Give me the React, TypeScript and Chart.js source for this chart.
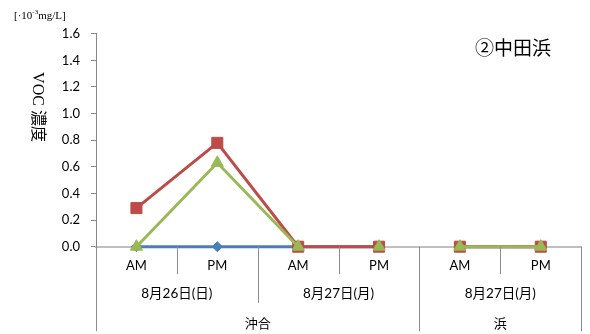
import React, { useEffect, useRef } from 'react';
import { Chart, registerables } from 'chart.js';

Chart.register(...registerables);

const categories = ['AM', 'PM', 'AM', 'PM', 'AM', 'PM'];
const dateLabels = ['8月26日(日)', '8月27日(月)', '8月27日(月)'];
const dateSpans = [2, 2, 2];
const locationLabels = ['沖合', '浜'];
const locationSpans = [4, 2];

const yMin = 0;
const yMax = 1.6;
const yStep = 0.2;

const blueValues = [0, 0, 0, 0, 0, 0];
const redValues = [0.29, 0.78, 0, 0, 0, 0];
const greenValues = [0, 0.63, 0, 0, 0, 0];
const greenHiddenSegments = [2];

const chartTitle = '②中田浜';
const unitMain = '[·10';
const unitSup = '-3';
const unitTail = 'mg/L]';
const yTitle = 'VOC 濃度';

const BLUE = '#4A7EBB';
const RED = '#BE4B48';
const GREEN = '#98B954';

// segments crossing a location boundary are not drawn
const locationBoundaries: number[] = [];
{
  let acc = 0;
  for (let i = 0; i < locationSpans.length - 1; i++) {
    acc += locationSpans[i];
    locationBoundaries.push(acc - 1);
  }
}

const segColor = (color: string, extra: number[] = []) => (ctx: any) =>
  locationBoundaries.includes(ctx.p0DataIndex) || extra.includes(ctx.p0DataIndex) ? 'rgba(0,0,0,0)' : color;

const multiLevelPlugin = {
  id: 'multiLevel',
  afterDraw(chart: any) {
    const ctx = chart.ctx as CanvasRenderingContext2D;
    const xs = chart.scales.x;
    const a = chart.chartArea;
    const n = categories.length;
    const step = xs.getPixelForValue(1) - xs.getPixelForValue(0);
    const edge = (i: number) => xs.getPixelForValue(i) - step / 2;
    const yb = a.bottom;
    const l1 = yb + 27.5;
    const l2 = yb + 56;
    const l3 = yb + 84.5;

    const dateB = new Set<number>();
    let acc = 0;
    dateSpans.forEach((s) => { acc += s; dateB.add(acc); });
    const locB = new Set<number>([0]);
    acc = 0;
    locationSpans.forEach((s) => { acc += s; locB.add(acc); });

    ctx.save();
    ctx.strokeStyle = '#8c8c8c';
    ctx.lineWidth = 1;
    for (let b = 0; b <= n; b++) {
      const px = Math.round(edge(b)) + 0.5;
      const y2 = locB.has(b) ? l3 : dateB.has(b) ? l2 : l1;
      ctx.beginPath();
      ctx.moveTo(px, yb);
      ctx.lineTo(px, y2);
      ctx.stroke();
    }

    ctx.fillStyle = '#000';
    ctx.textAlign = 'center';
    ctx.textBaseline = 'middle';
    ctx.font = '13.5px Lato, "Noto Sans CJK JP"';
    let start = 0;
    dateLabels.forEach((lab, i) => {
      const cx = (edge(start) + edge(start + dateSpans[i])) / 2;
      ctx.fillText(lab, cx, yb + 46.5);
      start += dateSpans[i];
    });
    ctx.font = '13px "Noto Sans CJK JP"';
    start = 0;
    locationLabels.forEach((lab, i) => {
      const cx = (edge(start) + edge(start + locationSpans[i])) / 2;
      ctx.fillText(lab, cx, yb + 76);
      start += locationSpans[i];
    });

    // chart title
    ctx.font = '19px "Noto Sans CJK JP"';
    ctx.textAlign = 'left';
    ctx.fillText(chartTitle, 475, 48);

    // unit label
    ctx.textBaseline = 'alphabetic';
    ctx.font = '11px "Liberation Serif", "Noto Sans CJK JP"';
    let ux = 14;
    ctx.fillText(unitMain, ux, 19);
    ux += ctx.measureText(unitMain).width;
    ctx.font = '7px "Liberation Serif"';
    ctx.fillText(unitSup, ux, 14);
    ux += ctx.measureText(unitSup).width;
    ctx.font = '11px "Liberation Serif", "Noto Sans CJK JP"';
    ctx.fillText(unitTail, ux, 19);

    // y title, rotated clockwise
    ctx.save();
    ctx.translate(37.5, 107);
    ctx.rotate(Math.PI / 2);
    ctx.textAlign = 'center';
    ctx.textBaseline = 'middle';
    ctx.font = '16px "Liberation Serif", "Noto Sans CJK JP"';
    ctx.fillText(yTitle, 0, 0);
    ctx.restore();

    ctx.restore();
  },
};

export default function App() {
  const ref = useRef<HTMLCanvasElement>(null);
  useEffect(() => {
    document.body.style.margin = '0';
    const chart = new Chart(ref.current!, {
      type: 'line',
      data: {
        labels: categories,
        datasets: [
          {
            label: 'blue',
            data: blueValues,
            borderColor: BLUE,
            backgroundColor: BLUE,
            borderWidth: 3,
            pointStyle: 'rectRot',
            pointRadius: 5,
            pointBorderWidth: 1,
            order: 3,
            clip: false,
            segment: { borderColor: segColor(BLUE) },
          },
          {
            label: 'red',
            data: redValues,
            borderColor: RED,
            backgroundColor: RED,
            borderWidth: 3,
            pointStyle: 'rect',
            pointRadius: 7.8,
            pointBorderWidth: 1,
            order: 2,
            clip: false,
            segment: { borderColor: segColor(RED) },
          },
          {
            label: 'green',
            data: greenValues,
            borderColor: GREEN,
            backgroundColor: GREEN,
            borderWidth: 3,
            pointStyle: 'triangle',
            pointRadius: 7,
            pointBorderWidth: 1,
            order: 1,
            clip: false,
            segment: { borderColor: segColor(GREEN, greenHiddenSegments) },
          },
        ],
      },
      options: {
        responsive: false,
        animation: false,
        layout: { padding: { left: 0, right: 6, top: 33.7, bottom: 0 } },
        plugins: {
          legend: { display: false },
          tooltip: { enabled: false },
          title: { display: false },
        },
        elements: { line: { tension: 0 } },
        scales: {
          x: {
            type: 'category',
            offset: true,
            grid: { display: false, drawTicks: false },
            border: { display: true, color: '#BFBFBF', width: 2 },
            ticks: {
              color: '#000',
              font: { family: 'Lato', size: 13 },
              padding: 11,
              maxRotation: 0,
              autoSkip: false,
            },
            afterFit: (s: any) => { s.height = 87.3; },
          },
          y: {
            min: yMin,
            max: yMax,
            grid: { drawOnChartArea: false, tickLength: 5, color: '#868686' },
            border: { display: true, color: '#868686', width: 1 },
            ticks: {
              stepSize: yStep,
              color: '#000',
              font: { family: 'Lato', size: 13 },
              padding: 11,
              callback: (v: any) => Number(v).toFixed(1),
            },
            afterFit: (s: any) => { s.width = 96; },
          },
        },
      },
      plugins: [multiLevelPlugin],
    });
    return () => chart.destroy();
  }, []);
  return (
    <div style={{ width: 590, height: 334 }}>
      <canvas ref={ref} width={590} height={334} style={{ display: 'block' }} />
    </div>
  );
}
